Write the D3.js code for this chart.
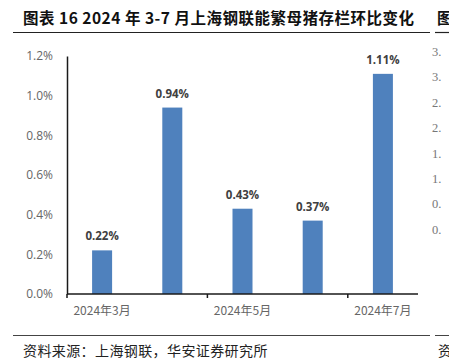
<!doctype html>
<html lang="zh">
<head>
<meta charset="utf-8" />
<title>能繁母猪存栏环比变化</title>
<script src="https://d3js.org/d3.v7.min.js"></script>
<style>
  body { margin: 0; background: #fff; }
  svg { display: block; }
  .cjk { font-family: "Noto Sans CJK SC", sans-serif; }
</style>
</head>
<body>
<div id="svg_div"></div>
<script>
// data
var months = ["2024年3月", "2024年4月", "2024年5月", "2024年6月", "2024年7月"];
var values = [0.0022, 0.0094, 0.0043, 0.0037, 0.0111];
var yTicks = [0, 0.002, 0.004, 0.006, 0.008, 0.010, 0.012];
// labels of the next chart, cut off at the right edge
var sideTicks = ["3.5", "3.0", "2.5", "2.0", "1.5", "1.0", "0.5", "0.0"];

var W = 449, H = 359;
var plotLeft = 67, plotRight = 418, plotTop = 56, plotBottom = 294;

var svg = d3.select("#svg_div").append("svg")
  .attr("width", W)
  .attr("height", H);

// title + rule
svg.append("text")
  .attr("class", "cjk")
  .attr("x", 23).attr("y", 24)
  .attr("font-size", "15.5px")
  .attr("font-weight", "bold")
  .attr("letter-spacing", "0.5px")
  .attr("fill", "#111")
  .text("图表 16 2024 年 3-7 月上海钢联能繁母猪存栏环比变化");
svg.append("text")
  .attr("class", "cjk")
  .attr("x", 437).attr("y", 24)
  .attr("font-size", "15.5px")
  .attr("font-weight", "bold")
  .attr("fill", "#111")
  .text("图");
svg.append("line").attr("x1", 13).attr("x2", 430).attr("y1", 32.5).attr("y2", 32.5)
  .attr("stroke", "#222").attr("stroke-width", 1.2);
svg.append("line").attr("x1", 435).attr("x2", W).attr("y1", 32.5).attr("y2", 32.5)
  .attr("stroke", "#222").attr("stroke-width", 1.2);

// scales
var x = d3.scaleBand().domain(months).range([plotLeft, plotRight]).padding(0);
var y = d3.scaleLinear().domain([0, 0.012]).range([plotBottom, plotTop]);
var barW = x.bandwidth() * 0.285;

// bars
svg.selectAll("rect.bar")
  .data(values)
  .enter().append("rect")
  .attr("class", "bar")
  .attr("x", function(d, i){ return x(months[i]) + x.bandwidth() / 2 - barW / 2; })
  .attr("y", function(d){ return y(d); })
  .attr("width", barW)
  .attr("height", function(d){ return plotBottom - y(d); })
  .attr("fill", "#4F81BD");

// value labels
svg.selectAll("text.val")
  .data(values)
  .enter().append("text")
  .attr("class", "val")
  .attr("x", function(d, i){ return x(months[i]) + x.bandwidth() / 2; })
  .attr("y", function(d){ return y(d) - 10; })
  .attr("text-anchor", "middle")
  .attr("font-family", "Open Sans, sans-serif")
  .attr("font-size", "11.5px")
  .attr("font-weight", "bold")
  .attr("fill", "#404040")
  .text(function(d){ return (d * 100).toFixed(2) + "%"; });

// y axis
var yAxis = d3.axisLeft(y)
  .tickValues(yTicks)
  .tickSize(0)
  .tickPadding(14)
  .tickFormat(d3.format(".1%"));
var gy = svg.append("g")
  .attr("transform", "translate(" + plotLeft + ",0)")
  .call(yAxis);
gy.select(".domain").attr("stroke", "#1a1a1a").attr("stroke-width", 1.5);
gy.selectAll("text")
  .attr("font-family", "Open Sans, sans-serif")
  .attr("font-size", "12px")
  .attr("fill", "#666");

// x axis: line, ticks every 2 categories, labels under 3,5,7月
svg.append("line")
  .attr("x1", plotLeft).attr("x2", plotRight)
  .attr("y1", plotBottom).attr("y2", plotBottom)
  .attr("stroke", "#1a1a1a").attr("stroke-width", 1.5);
var shown = [months[0], months[2], months[4]];
svg.selectAll("line.xtick")
  .data(shown)
  .enter().append("line")
  .attr("class", "xtick")
  .attr("x1", function(d){ return x(d); })
  .attr("x2", function(d){ return x(d); })
  .attr("y1", plotBottom).attr("y2", plotBottom + 4)
  .attr("stroke", "#1a1a1a").attr("stroke-width", 1.5);
svg.selectAll("text.xlab")
  .data(shown)
  .enter().append("text")
  .attr("class", "xlab cjk")
  .attr("x", function(d){ return x(d) + x.bandwidth() / 2; })
  .attr("y", plotBottom + 21)
  .attr("text-anchor", "middle")
  .attr("font-size", "12px")
  .attr("fill", "#666")
  .text(function(d){ return d; });

// cut-off neighbouring chart labels
var clip = svg.append("clipPath").attr("id", "sideclip");
clip.append("rect").attr("x", 425).attr("y", 40).attr("width", 16).attr("height", 210);
svg.append("g").attr("clip-path", "url(#sideclip)")
  .selectAll("text")
  .data(sideTicks)
  .enter().append("text")
  .attr("x", 432)
  .attr("y", function(d, i){ return 56 + i * 25.4; })
  .attr("font-family", "Liberation Serif, serif")
  .attr("font-size", "12.5px")
  .attr("fill", "#777")
  .text(function(d){ return d; });

// footer
svg.append("line").attr("x1", 13).attr("x2", 430).attr("y1", 335.5).attr("y2", 335.5)
  .attr("stroke", "#444").attr("stroke-width", 1);
svg.append("line").attr("x1", 435).attr("x2", W).attr("y1", 335.5).attr("y2", 335.5)
  .attr("stroke", "#444").attr("stroke-width", 1);
svg.append("text")
  .attr("class", "cjk")
  .attr("x", 23).attr("y", 356)
  .attr("font-size", "14px")
  .attr("letter-spacing", "0.4px")
  .attr("fill", "#222")
  .text("资料来源：上海钢联，华安证券研究所");
svg.append("text")
  .attr("class", "cjk")
  .attr("x", 438).attr("y", 356)
  .attr("font-size", "14px")
  .attr("fill", "#222")
  .text("资");
</script>
</body>
</html>
